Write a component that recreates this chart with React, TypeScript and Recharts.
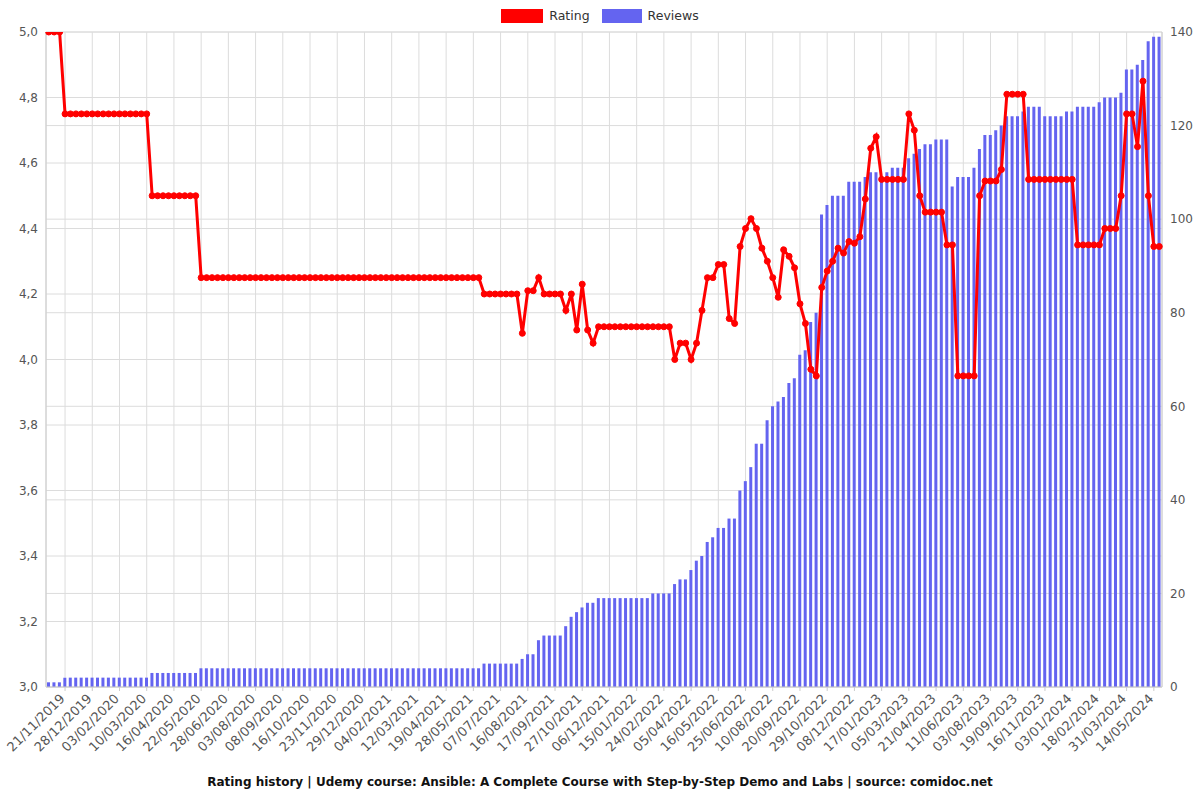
import React from "react";
import { ComposedChart, Bar, Line, XAxis, YAxis, CartesianGrid, Legend } from "recharts";

const tickLabels = [
  "21/11/2019", "28/12/2019", "03/02/2020", "10/03/2020", "16/04/2020", "22/05/2020",
  "28/06/2020", "03/08/2020", "08/09/2020", "16/10/2020", "23/11/2020", "29/12/2020",
  "04/02/2021", "12/03/2021", "19/04/2021", "28/05/2021", "07/07/2021", "16/08/2021",
  "17/09/2021", "27/10/2021", "06/12/2021", "15/01/2022", "24/02/2022", "05/04/2022",
  "16/05/2022", "25/06/2022", "10/08/2022", "20/09/2022", "29/10/2022", "08/12/2022",
  "17/01/2023", "05/03/2023", "21/04/2023", "11/06/2023", "03/08/2023", "19/09/2023",
  "16/11/2023", "03/01/2024", "18/02/2024", "31/03/2024", "14/05/2024",
];

// point index of each labelled tick
const tickIndex = [
  3, 8, 13, 18, 23, 28, 33, 38, 43, 48, 53, 58, 63, 68, 73, 78, 83, 88, 93, 98, 103,
  108, 113, 118, 123, 128, 133, 138, 143, 148, 153, 158, 163, 168, 173, 178, 183, 188,
  193, 198, 203,
];

const rating = [
  5, 5, 5, 4.75, 4.75, 4.75, 4.75, 4.75, 4.75, 4.75,
  4.75, 4.75, 4.75, 4.75, 4.75, 4.75, 4.75, 4.75, 4.75, 4.5,
  4.5, 4.5, 4.5, 4.5, 4.5, 4.5, 4.5, 4.5, 4.25, 4.25,
  4.25, 4.25, 4.25, 4.25, 4.25, 4.25, 4.25, 4.25, 4.25, 4.25,
  4.25, 4.25, 4.25, 4.25, 4.25, 4.25, 4.25, 4.25, 4.25, 4.25,
  4.25, 4.25, 4.25, 4.25, 4.25, 4.25, 4.25, 4.25, 4.25, 4.25,
  4.25, 4.25, 4.25, 4.25, 4.25, 4.25, 4.25, 4.25, 4.25, 4.25,
  4.25, 4.25, 4.25, 4.25, 4.25, 4.25, 4.25, 4.25, 4.25, 4.25,
  4.2, 4.2, 4.2, 4.2, 4.2, 4.2, 4.2, 4.08, 4.21, 4.21,
  4.25, 4.2, 4.2, 4.2, 4.2, 4.15, 4.2, 4.09, 4.23, 4.09,
  4.05, 4.1, 4.1, 4.1, 4.1, 4.1, 4.1, 4.1, 4.1, 4.1,
  4.1, 4.1, 4.1, 4.1, 4.1, 4.0, 4.05, 4.05, 4.0, 4.05,
  4.15, 4.25, 4.25, 4.29, 4.29, 4.125, 4.11, 4.345, 4.4, 4.43,
  4.4, 4.34, 4.3, 4.25, 4.19, 4.335, 4.315, 4.28, 4.17, 4.11,
  3.97, 3.95, 4.22, 4.27, 4.3, 4.34, 4.325, 4.36, 4.355, 4.375,
  4.49, 4.645, 4.68, 4.55, 4.55, 4.55, 4.55, 4.55, 4.75, 4.7,
  4.5, 4.45, 4.45, 4.45, 4.45, 4.35, 4.35, 3.95, 3.95, 3.95,
  3.95, 4.5, 4.545, 4.545, 4.545, 4.58, 4.81, 4.81, 4.81, 4.81,
  4.55, 4.55, 4.55, 4.55, 4.55, 4.55, 4.55, 4.55, 4.55, 4.35,
  4.35, 4.35, 4.35, 4.35, 4.4, 4.4, 4.4, 4.5, 4.75, 4.75,
  4.65, 4.85, 4.5, 4.345, 4.345,
];

const reviews = [
  1, 1, 1, 2, 2, 2, 2, 2, 2, 2,
  2, 2, 2, 2, 2, 2, 2, 2, 2, 3,
  3, 3, 3, 3, 3, 3, 3, 3, 4, 4,
  4, 4, 4, 4, 4, 4, 4, 4, 4, 4,
  4, 4, 4, 4, 4, 4, 4, 4, 4, 4,
  4, 4, 4, 4, 4, 4, 4, 4, 4, 4,
  4, 4, 4, 4, 4, 4, 4, 4, 4, 4,
  4, 4, 4, 4, 4, 4, 4, 4, 4, 4,
  5, 5, 5, 5, 5, 5, 5, 6, 7, 7,
  10, 11, 11, 11, 11, 13, 15, 16, 17, 18,
  18, 19, 19, 19, 19, 19, 19, 19, 19, 19,
  19, 20, 20, 20, 20, 22, 23, 23, 25, 27,
  28, 31, 32, 34, 34, 36, 36, 42, 44, 47,
  52, 52, 57, 60, 61, 62, 65, 66, 71, 72,
  78, 80, 101, 103, 105, 105, 105, 108, 108, 108,
  109, 110, 110, 109, 110, 111, 111, 111, 113, 114,
  115, 116, 116, 117, 117, 117, 107, 109, 109, 109,
  111, 115, 118, 118, 119, 120, 122, 122, 122, 123,
  124, 124, 124, 122, 122, 122, 122, 123, 123, 124,
  124, 124, 124, 125, 126, 126, 126, 127, 132, 132,
  133, 134, 138, 139, 139,
];

const ratingTicks = [3, 3.2, 3.4, 3.6, 3.8, 4, 4.2, 4.4, 4.6, 4.8, 5];
const reviewTicks = [0, 20, 40, 60, 80, 100, 120, 140];

const data = rating.map((r, i) => ({ i, rating: r, reviews: reviews[i] }));

const FONT = "'DejaVu Sans', sans-serif";
const TICK_COLOR = "#555";

const XTick = (props: any) => {
  const { x, y, payload } = props;
  const k = tickIndex.indexOf(payload.value);
  return (
    <g transform={`translate(${x - 6},${y})`}>
      <text
        x={0}
        y={0}
        dy="0.7em"
        textAnchor="end"
        transform="rotate(-45)"
        fill={TICK_COLOR}
        fontSize={13}
        fontFamily={FONT}
      >
        {k >= 0 ? tickLabels[k] : ""}
      </text>
    </g>
  );
};

const LegendBox = () => (
  <div
    style={{
      display: "flex",
      justifyContent: "center",
      alignItems: "center",
      fontFamily: FONT,
      fontSize: 12.5,
      color: "#333",
    }}
  >
    <span style={{ display: "inline-block", width: 42, height: 14, background: "#ff0000", marginRight: 6 }} />
    <span style={{ marginRight: 12 }}>Rating</span>
    <span style={{ display: "inline-block", width: 40, height: 14, background: "#6464f0", marginRight: 6 }} />
    <span>Reviews</span>
  </div>
);

export default function App() {
  return (
    <div style={{ position: "absolute", left: 0, top: 0, width: 1200, height: 800, background: "#fff" }}>
      <ComposedChart
        width={1200}
        height={800}
        data={data}
        margin={{ top: 32, right: 0, bottom: 33, left: 0 }}
      >
        <CartesianGrid yAxisId="left" stroke="#dcdcdc" />
        <CartesianGrid yAxisId="right" vertical={false} stroke="#dcdcdc" />
        <XAxis
          dataKey="i"
          type="category"
          ticks={tickIndex}
          interval={0}
          height={80}
          tick={<XTick />}
          tickSize={4}
          tickLine={{ stroke: "#ccc" }}
          axisLine={{ stroke: "#ccc" }}
        />
        <YAxis
          yAxisId="left"
          domain={[3, 5]}
          ticks={ratingTicks}
          width={46}
          tickFormatter={(v: number) => v.toFixed(1).replace(".", ",")}
          tick={{ fill: TICK_COLOR, fontSize: 12, fontFamily: FONT }}
          tickLine={false}
          axisLine={{ stroke: "#ccc" }}
          allowDataOverflow
        />
        <YAxis
          yAxisId="right"
          orientation="right"
          domain={[0, 140]}
          ticks={reviewTicks}
          width={38}
          tick={{ fill: TICK_COLOR, fontSize: 12, fontFamily: FONT }}
          tickLine={false}
          axisLine={{ stroke: "#ccc" }}
          allowDataOverflow
        />
        <Legend
          layout="horizontal"
          verticalAlign="middle"
          align="center"
          content={<LegendBox />}
          wrapperStyle={{ top: 8, left: 0, width: 1200 }}
        />
        <Bar yAxisId="right" dataKey="reviews" fill="#6464f0" barSize={3} isAnimationActive={false} />
        <Line
          yAxisId="left"
          type="linear"
          dataKey="rating"
          stroke="#ff0000"
          strokeWidth={3}
          dot={{ r: 3, fill: "#ff0000", stroke: "#ff0000", strokeWidth: 1 }}
          isAnimationActive={false}
        />
      </ComposedChart>
      <div
        style={{
          position: "absolute",
          top: 775,
          left: 0,
          width: 1200,
          textAlign: "center",
          fontFamily: FONT,
          fontWeight: "bold",
          fontSize: 12,
          color: "#111",
        }}
      >
        Rating history | Udemy course: Ansible: A Complete Course with Step-by-Step Demo and Labs | source: comidoc.net
      </div>
    </div>
  );
}
